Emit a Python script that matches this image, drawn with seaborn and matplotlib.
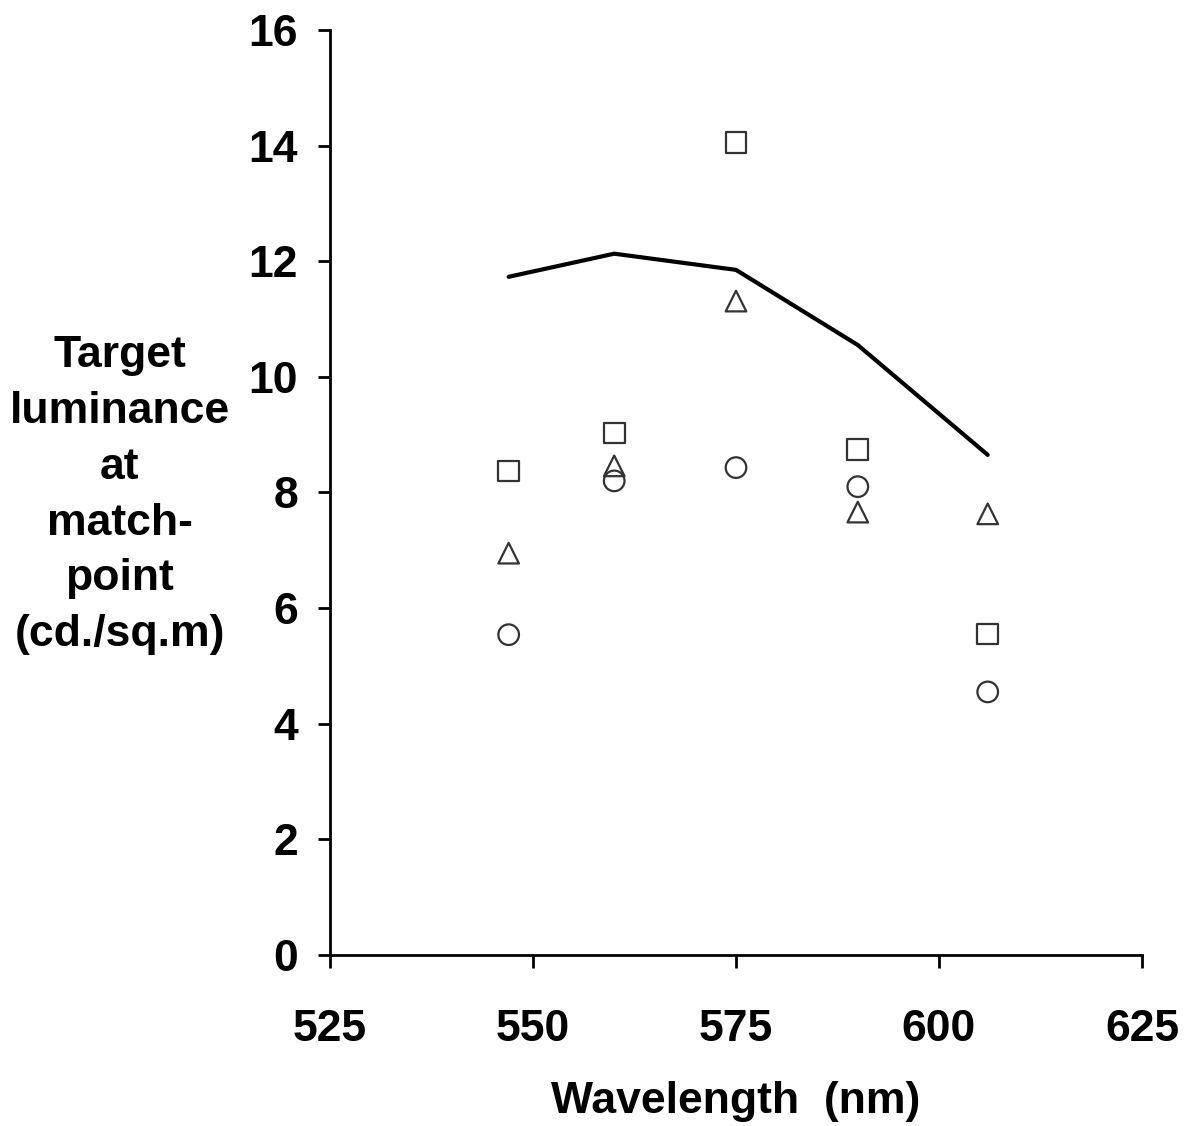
import pandas as pd
import matplotlib
matplotlib.use('Agg')
import matplotlib.pyplot as plt
import seaborn as sns

# wavelengths (nm) of the five test lights
wavelength = [547, 560, 575, 590, 606]

# solid line
line_lum = [11.73, 12.13, 11.85, 10.55, 8.65]

# individual observers (open symbols)
squares = [8.37, 9.03, 14.05, 8.74, 5.55]
triangles = [6.95, 8.46, 11.31, 7.66, 7.63]
circles = [5.54, 8.20, 8.43, 8.10, 4.55]

x_ticks = [525, 550, 575, 600, 625]
y_ticks = [0, 2, 4, 6, 8, 10, 12, 14, 16]

sns.set_style('ticks')
plt.rcParams['font.family'] = ['Liberation Sans', 'DejaVu Sans']
plt.rcParams['font.weight'] = 'bold'

df_line = pd.DataFrame({'wl': wavelength, 'lum': line_lum})

fig = plt.figure(figsize=(11.85, 11.26), dpi=100)
ax = fig.add_axes([0.2785, 0.1519, 0.6852, 0.8215])

sns.lineplot(data=df_line, x='wl', y='lum', color='black', linewidth=3.0, ax=ax)

for vals, mk in [(squares, 's'), (triangles, '^'), (circles, 'o')]:
    d = pd.DataFrame({'wl': wavelength, 'lum': vals})
    sns.scatterplot(data=d, x='wl', y='lum', marker=mk, s=220,
                    facecolor='none', edgecolor='#333333', linewidth=1.6, ax=ax)

ax.set_xlim(525, 625)
ax.set_ylim(0, 16)
ax.set_xticks(x_ticks)
ax.set_yticks(y_ticks)
sns.despine(ax=ax)
for sp in ['left', 'bottom']:
    ax.spines[sp].set_linewidth(2.0)
    ax.spines[sp].set_color('black')

ax.tick_params(axis='both', direction='out', length=9, width=2.0, colors='black',
               labelsize=32)
ax.tick_params(axis='x', pad=30)
ax.tick_params(axis='y', pad=14)
for lab in ax.get_xticklabels() + ax.get_yticklabels():
    lab.set_fontweight('bold')

ax.set_xlabel('Wavelength  (nm)', fontsize=32, fontweight='bold', labelpad=22,
              color='black')
ax.set_ylabel('Target\nluminance\nat\nmatch-\npoint\n(cd./sq.m)', fontsize=32,
              fontweight='bold', rotation=0, ha='center', va='center',
              linespacing=1.46, color='black')
ax.yaxis.set_label_coords(-0.259, 0.497)

fig.savefig('out.png', dpi=100)
